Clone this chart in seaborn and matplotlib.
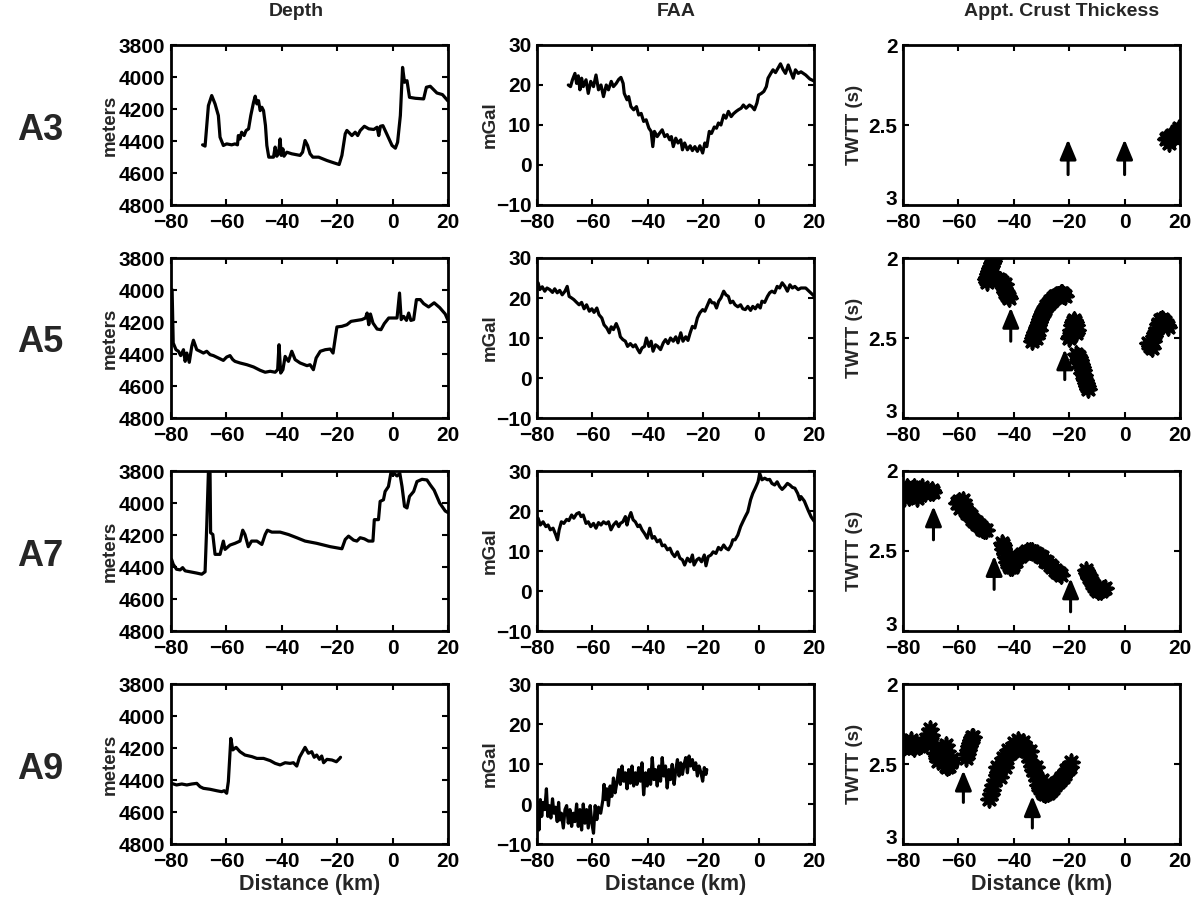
import matplotlib
matplotlib.use("Agg")
import matplotlib.pyplot as plt
import seaborn as sns

# ---------------- data ----------------
rows = ["A3", "A5", "A7", "A9"]
col_titles = ["Depth", "FAA", "Appt. Crust Thickess"]
x_ticks = [-80, -60, -40, -20, 0, 20]
depth_ticks = [3800, 4000, 4200, 4400, 4600, 4800]
faa_ticks = [-10, 0, 10, 20, 30]
twtt_ticks = [2, 2.5, 3]
twtt_tick_labels = ["2", "2.5", "3"]

# Depth (meters)
a3_depth_km = [-68.6, -67.7, -66.5, -65.3, -64.1, -62.9, -62.3, -61.1, -59.9, -58.1, -56.9, -56.0, -55.7, -55.1,
               -54.5, -53.6, -52.9, -52.0, -51.2, -50.2, -49.6, -49.0, -48.4, -47.8, -47.2, -46.6, -45.9, -45.4,
               -44.7, -43.9, -43.0, -42.4, -41.8, -41.2, -40.6, -40.2, -39.6, -39.2, -38.2, -36.4, -34.6, -33.4,
               -32.5, -31.6, -30.7, -29.8, -28.8, -26.7, -23.7, -21.3, -19.3, -18.3, -17.1, -16.5, -14.7, -13.5,
               -12.6, -11.7, -10.2, -8.6, -6.8, -5.6, -5.0, -4.4, -3.5, -2.0, -0.2, 1.0, 1.8, 2.8, 3.6, 4.3, 5.2,
               6.1, 8.2, 11.2, 12.2, 13.6, 16.0, 18.0, 20.0]
a3_depth_m = [4424, 4432, 4179, 4116, 4168, 4241, 4376, 4428, 4418, 4424, 4418, 4424, 4366, 4387,
              4345, 4366, 4335, 4324, 4241, 4158, 4120, 4168, 4148, 4210, 4189, 4210, 4303, 4428,
              4501, 4501, 4501, 4438, 4495, 4480, 4387, 4490, 4449, 4495, 4470, 4480, 4486, 4490,
              4470, 4397, 4428, 4480, 4501, 4501, 4522, 4536, 4547, 4490, 4355, 4334, 4366, 4345,
              4366, 4335, 4308, 4324, 4328, 4314, 4366, 4308, 4304, 4360, 4428, 4445, 4408, 4241, 3940, 4033, 4023,
              4127, 4133, 4137, 4064, 4058, 4100, 4110, 4150]

a5_depth_km = [-79.6, -79.2, -78.2, -77.3, -76.5, -75.5, -74.9, -74.3, -73.4, -72.5, -71.9, -70.7, -69.5, -68.3,
               -67.1, -65.9, -64.7, -62.9, -61.1, -59.9, -58.7, -57.7, -56.9, -55.1, -52.6, -50.2, -47.8, -46.0,
               -44.2, -42.4, -41.5, -41.0, -40.4, -39.6, -38.8, -37.6, -36.4, -35.2, -33.4, -30.9, -29.8, -28.6,
               -27.6, -26.1, -24.3, -22.5, -21.5, -20.7, -20.1, -18.3, -16.5, -15.0, -12.9, -11.1, -9.8, -9.2,
               -8.6, -8.0, -7.1, -5.6, -4.2, -3.0, -1.4, 0.4, 1.6, 2.5, 3.1, 4.0, 5.0, 5.8, 6.6, 7.6, 8.6, 10.0,
               11.2, 13.0, 15.0, 17.0, 19.0, 20.0]
a5_depth_m = [3998, 4331, 4373, 4383, 4410, 4373, 4446, 4394, 4452, 4352, 4314, 4373, 4383, 4394,
              4383, 4404, 4410, 4425, 4440, 4419, 4410, 4435, 4446, 4456, 4467, 4481, 4502, 4514,
              4508, 4514, 4498, 4342, 4519, 4498, 4415, 4446, 4383, 4435, 4456, 4473, 4467, 4498,
              4425, 4383, 4373, 4369, 4394, 4300, 4231, 4227, 4217, 4196, 4190, 4185, 4175, 4144,
              4217, 4150, 4206, 4244, 4248, 4210, 4175, 4175, 4175, 4019, 4185, 4165, 4190, 4144, 4190, 4185, 4060, 4060,
              4085, 4106, 4080, 4110, 4150, 4190]

a7_depth_km = [-79.8, -79.2, -78.0, -76.7, -75.8, -74.9, -73.1, -70.7, -68.9, -67.7, -67.1, -66.5, -65.9, -65.7,
               -64.9, -64.1, -62.3, -61.1, -60.5, -58.7, -56.9, -55.1, -54.1, -53.3, -52.1, -50.9, -49.0, -47.2,
               -46.0, -45.2, -43.6, -40.6, -37.6, -34.6, -31.6, -27.4, -22.5, -18.3, -17.1, -15.9, -14.1, -12.9,
               -11.7, -10.2, -8.7, -7.1, -6.6, -5.1, -4.5, -3.3, -2.7, -1.5, -0.6, 0.4, 1.6, 2.6, 3.4, 4.3, 5.2,
               6.1, 7.6, 8.8, 10.6, 12.4, 13.6, 15.0, 17.0, 19.0, 20.0]
a7_depth_m = [4352, 4383, 4414, 4418, 4404, 4424, 4430, 4438, 4445, 4430, 4145, 3810, 3814, 4186,
              4197, 4321, 4321, 4238, 4290, 4263, 4252, 4238, 4170, 4197, 4273, 4238, 4238, 4259,
              4197, 4170, 4182, 4182, 4197, 4217, 4238, 4252, 4273, 4286, 4228, 4207, 4232, 4238,
              4217, 4224, 4238, 4238, 4104, 4104, 3990, 3980, 3928, 3897, 3810, 3814, 3831, 3814, 3897, 4021, 4031,
              3959, 3928, 3866, 3852, 3856, 3887, 3920, 4000, 4050, 4060]

a9_depth_km = [-79.8, -78.0, -76.1, -74.3, -72.5, -70.7, -69.5, -68.3, -65.9, -63.5, -61.7, -60.8, -59.9, -59.3,
               -58.4, -57.7, -56.5, -55.1, -53.3, -50.8, -49.0, -46.6, -44.2, -42.4, -40.6, -38.8, -37.0, -35.8,
               -34.6, -33.6, -32.8, -31.6, -30.4, -29.2, -28.3, -27.4, -26.4, -25.6, -24.9, -23.7, -21.9, -20.3,
               -19.1, -18.8]
a9_depth_m = [4421, 4431, 4425, 4431, 4425, 4421, 4442, 4452, 4458, 4467, 4473, 4467, 4483, 4410,
              4140, 4212, 4196, 4223, 4244, 4254, 4265, 4265, 4279, 4296, 4306, 4292, 4296, 4292,
              4313, 4258, 4233, 4196, 4233, 4223, 4258, 4244, 4271, 4250, 4292, 4271, 4275, 4286,
              4265, 4258]

# FAA (mGal)
a3_faa_km = [-68.7, -67.9, -67.2, -66.3, -65.7, -65.1, -64.5, -63.9, -63.3, -62.3, -61.5, -60.6, -59.6, -58.7,
             -57.8, -56.9, -56.0, -55.0, -54.2, -53.2, -52.4, -51.4, -50.5, -49.7, -48.9, -48.5, -47.5, -46.9,
             -46.1, -45.1, -44.1, -43.3, -42.4, -41.5, -40.6, -39.6, -38.8, -38.2, -37.6, -36.6, -35.8, -34.8,
             -33.9, -33.0, -32.1, -31.5, -30.8, -29.9, -29.1, -28.1, -27.5, -26.7, -25.7, -24.7, -23.9, -23.0,
             -22.1, -21.2, -20.2, -19.4, -18.7, -17.8, -17.0, -16.0, -15.2, -14.5, -13.6, -12.6, -11.8, -10.9,
             -9.9, -9.1, -8.1, -7.3, -6.3, -5.5, -4.5, -3.3, -2.4, -1.5, -0.6, 0.0, 1.0, 1.9, 2.8, 3.4, 4.4,
             5.2, 6.1, 7.0, 7.9, 8.8, 9.7, 10.7, 11.6, 12.5, 13.3, 14.3, 15.3, 17.0, 18.5, 20.0]
a3_faa_mgal = [20.0, 19.6, 21.3, 22.9, 20.4, 22.3, 18.8, 21.7, 19.6, 21.3, 17.9, 20.9, 19.6, 22.5,
               18.8, 20.0, 17.1, 20.0, 18.8, 20.9, 19.6, 20.4, 21.4, 21.9, 20.4, 17.9, 16.3, 17.1,
               14.6, 13.8, 14.6, 12.5, 12.9, 10.9, 11.3, 9.2, 8.4, 4.6, 8.4, 7.1, 7.9, 8.8,
               7.1, 7.6, 6.3, 7.1, 4.6, 6.7, 5.5, 6.3, 3.8, 5.5, 3.8, 4.8, 3.6, 4.6,
               3.4, 4.8, 3.0, 5.5, 4.6, 8.4, 7.9, 9.5, 9.2, 10.5, 10.0, 12.5, 11.7, 13.4,
               12.1, 12.8, 13.4, 13.8, 14.2, 15.0, 14.2, 15.0, 14.6, 13.8, 15.5, 17.5, 17.9, 18.4, 19.6, 21.7, 22.9,
               23.8, 23.1, 24.2, 25.3, 23.9, 22.9, 25.0, 23.3, 21.7, 23.8, 22.9, 23.3, 22.5, 21.5, 21.0]

a5_faa_km = [-79.6, -79.0, -78.1, -77.2, -76.4, -75.4, -74.4, -73.6, -72.7, -71.8, -70.9, -69.9, -69.1, -68.4,
             -67.5, -66.7, -65.7, -64.8, -63.9, -63.0, -62.1, -61.1, -60.2, -59.4, -58.4, -57.6, -56.6, -55.8,
             -54.8, -53.9, -53.2, -52.4, -51.4, -50.5, -49.9, -49.0, -48.1, -47.3, -46.3, -45.3, -44.5, -43.6,
             -42.9, -42.1, -41.2, -40.5, -39.6, -38.8, -38.1, -37.2, -36.4, -35.4, -34.4, -33.6, -32.7, -31.8,
             -30.8, -29.9, -29.1, -28.1, -27.3, -26.3, -25.5, -24.7, -23.9, -23.0, -22.1, -21.2, -20.2, -19.4,
             -18.4, -17.6, -16.8, -16.0, -15.2, -14.4, -13.6, -12.6, -11.8, -10.9, -10.2, -9.3, -8.5, -7.5,
             -6.5, -5.7, -4.8, -3.9, -2.9, -2.1, -1.2, -0.3, 0.6, 1.2, 2.2, 3.2, 4.0, 4.8, 5.8, 6.7, 7.6, 8.5,
             9.5, 10.4, 11.3, 12.2, 13.1, 14.3, 15.3, 17.0, 18.5, 20.0]
a5_faa_mgal = [23.8, 22.1, 22.8, 21.7, 22.5, 22.1, 21.4, 22.3, 21.3, 21.9, 20.8, 21.7, 22.9, 20.4,
               20.0, 19.6, 18.9, 18.3, 18.9, 17.3, 18.3, 16.7, 17.3, 16.4, 17.5, 15.8, 15.0, 13.3,
               12.5, 11.3, 12.8, 12.1, 13.6, 12.1, 10.3, 9.6, 9.2, 7.9, 8.6, 7.8, 8.3, 7.1,
               6.3, 7.5, 7.9, 10.0, 7.9, 9.2, 6.7, 8.3, 7.9, 7.1, 8.8, 9.6, 8.6, 10.0,
               9.2, 10.3, 8.8, 11.3, 9.2, 10.3, 9.4, 11.3, 12.9, 12.5, 15.0, 16.3, 17.1, 16.7,
               18.3, 19.6, 18.8, 18.8, 17.5, 19.2, 20.0, 21.7, 20.8, 20.4, 18.8, 19.2, 18.3, 17.8,
               18.3, 17.3, 17.1, 17.9, 16.9, 17.9, 17.3, 18.3, 17.5, 19.2, 18.9, 20.4, 21.3, 21.7, 21.3, 22.9, 22.5, 23.8,
               22.9, 21.7, 23.3, 22.5, 22.9, 22.1, 22.5, 22.5, 21.5, 20.5]

a7_faa_km = [-79.6, -78.8, -77.8, -76.8, -76.0, -75.2, -74.2, -73.2, -72.6, -72.0, -71.2, -70.3, -69.3, -68.5,
             -67.5, -66.7, -65.7, -64.8, -64.1, -63.3, -62.3, -61.5, -60.6, -59.6, -58.7, -57.8, -56.9, -56.0,
             -55.0, -54.2, -53.3, -52.4, -51.4, -50.5, -49.9, -49.0, -48.1, -47.5, -46.9, -46.1, -45.3, -44.5,
             -43.6, -42.9, -42.1, -41.2, -40.2, -39.3, -38.4, -37.6, -36.6, -35.6, -34.8, -33.9, -32.9, -32.0,
             -31.2, -30.3, -29.3, -28.4, -27.5, -26.7, -25.7, -24.7, -23.9, -23.3, -22.3, -21.5, -20.6, -19.6,
             -19.0, -18.2, -17.2, -16.4, -15.4, -14.5, -13.6, -12.6, -11.8, -10.9, -9.9, -9.3, -8.5, -7.5,
             -6.5, -5.7, -4.8, -3.9, -2.9, -2.1, -1.2, -0.2, 0.4, 1.2, 2.2, 3.2, 4.0, 4.8, 5.8, 6.7, 7.6, 8.5,
             9.5, 10.4, 11.3, 12.2, 13.1, 14.1, 14.9, 15.3, 16.5, 18.0, 19.0, 20.0]
a7_faa_mgal = [18.2, 16.5, 17.3, 16.1, 16.5, 15.3, 15.7, 14.0, 12.8, 15.3, 17.3, 16.9, 17.9, 17.6,
               19.0, 18.2, 19.3, 19.6, 18.6, 19.0, 16.9, 17.3, 16.1, 16.9, 15.7, 17.1, 16.5, 17.3,
               16.8, 17.3, 15.3, 16.5, 17.3, 16.1, 16.9, 17.3, 18.6, 16.5, 18.2, 19.6, 17.8, 17.3,
               16.1, 16.5, 15.3, 14.4, 13.2, 15.7, 13.2, 13.6, 12.3, 12.8, 11.3, 11.5, 10.3, 10.7,
               9.4, 8.6, 9.8, 8.2, 7.8, 6.5, 8.2, 7.3, 9.0, 6.5, 7.8, 8.2, 7.3, 9.0,
               6.3, 8.6, 9.0, 9.8, 9.4, 10.9, 10.3, 11.5, 10.7, 10.3, 11.5, 12.8, 12.8, 14.0,
               16.1, 17.3, 18.6, 19.8, 22.8, 24.4, 25.7, 27.3, 29.4, 27.8, 28.2, 27.8, 27.9, 26.9, 26.5, 27.3, 26.1, 25.4,
               26.1, 26.9, 26.5, 25.9, 25.7, 24.4, 22.8, 23.6, 22.5, 20.0, 18.5, 17.5]

a9_faa_km = [-79.9, -79.6, -79.3, -78.8, -78.3, -77.8, -77.2, -76.6, -76.1, -75.6, -75.0, -74.4, -73.9, -73.3,
             -72.7, -72.2, -71.8, -71.2, -70.5, -69.9, -69.3, -68.7, -68.1, -67.5, -66.9, -66.3, -65.7, -65.1,
             -64.5, -63.9, -63.3, -62.7, -62.1, -61.5, -60.8, -60.2, -59.6, -59.0, -58.4, -57.8, -57.0, -56.2,
             -55.8, -55.3, -54.8, -54.2, -53.6, -53.0, -52.4, -51.8, -51.2, -50.5, -49.9, -49.3, -48.7, -48.1,
             -47.5, -46.9, -46.3, -45.7, -45.1, -44.5, -43.9, -43.3, -42.7, -42.1, -41.5, -40.8, -40.2, -39.6,
             -39.0, -38.4, -37.8, -37.2, -36.6, -36.0, -35.4, -34.8, -34.2, -33.6, -33.0, -32.4, -31.8, -31.2,
             -30.5, -29.9, -29.3, -28.7, -28.1, -27.5, -26.9, -26.3, -25.7, -25.1, -24.5, -23.9, -23.3, -22.7,
             -22.1, -21.5, -20.8, -20.2, -19.6, -19.0, -18.7]
a9_faa_mgal = [-3.9, 0.4, -6.5, 1.1, -3.1, 0.4, -1.4, 3.8, -3.1, -0.4, -3.5, 1.3, -2.3, -0.8,
               -4.4, 0.4, -4.0, -2.3, -6.0, -1.4, -0.4, -4.8, -1.4, -5.6, -2.3, -4.4, 0.0, -5.6,
               -1.4, -6.5, 0.0, -4.8, -1.4, -6.0, -0.4, -4.8, -7.3, -0.4, -3.9, -0.8, -2.3, 1.1,
               4.9, 1.1, 3.8, -0.4, 4.5, 1.9, 6.5, 2.8, 5.2, 8.6, 4.9, 9.5, 5.7, 7.8,
               3.8, 8.6, 5.2, 9.5, 4.5, 7.8, 4.9, 9.1, 5.7, 10.3, 2.3, 7.8, 4.5, 8.6,
               4.9, 11.6, 6.1, 8.6, 4.5, 9.5, 5.7, 11.6, 7.0, 9.5, 4.0, 8.6, 6.1, 9.9,
               4.9, 8.6, 11.1, 7.0, 10.3, 7.4, 9.9, 11.6, 7.8, 12.0, 9.5, 11.1, 8.6, 10.3,
               7.0, 9.5, 7.8, 5.7, 9.1, 7.4, 8.6]

# Apparent crust thickness (TWTT, s)
a3_twtt_km = [14.8, 15.4, 16.0, 16.6, 17.2, 17.8, 18.4, 19.0, 19.5, 16.0, 18.0]
a3_twtt_s = [2.59, 2.58, 2.58, 2.57, 2.56, 2.56, 2.55, 2.54, 2.52, 2.61, 2.58]

a5_twtt_km = [-50.2, -49.8, -49.4, -49.0, -48.6, -48.2, -47.8, -47.4, -47.0, -49.6, -48.8,
              -45.6, -45.0, -44.4, -44.0, -43.6, -43.2, -42.8, -42.4, -42.0, -41.6, -43.0,
              -33.4, -33.0, -32.6, -32.2, -31.8, -31.4, -31.0, -30.6, -30.2, -29.8, -29.4, -29.0, -28.6,
              -28.2, -27.8, -27.4, -27.0, -26.6, -26.2, -25.8, -25.4, -25.0, -24.6, -24.2, -23.8, -23.4,
              -23.0, -22.6, -22.2, -21.8, -21.4, -32.0, -30.8,
              -20.0, -19.6, -19.4, -19.0, -18.6, -18.2, -17.8, -17.4, -17.2, -17.6, -18.4,
              -17.6, -17.0, -16.6, -16.2, -15.8, -15.4, -15.0, -14.7, -14.4, -14.0, -13.7, -13.3, -16.8, -15.2,
              8.6, 9.2, 9.8, 10.4, 11.0, 11.6, 12.2, 12.8, 13.4, 14.0, 14.6, 15.2, 15.8, 10.6, 13.0]
a5_twtt_s = [2.13, 2.12, 2.10, 2.08, 2.06, 2.05, 2.03, 2.02, 2.00, 2.15, 2.11,
             2.13, 2.14, 2.15, 2.17, 2.19, 2.21, 2.22, 2.23, 2.24, 2.25, 2.16,
             2.52, 2.50, 2.48, 2.46, 2.44, 2.42, 2.40, 2.38, 2.36, 2.35, 2.34, 2.33, 2.32,
             2.30, 2.29, 2.28, 2.27, 2.27, 2.26, 2.25, 2.25, 2.24, 2.24, 2.23, 2.23, 2.23,
             2.22, 2.22, 2.23, 2.23, 2.24, 2.50, 2.45,
             2.50, 2.49, 2.45, 2.42, 2.40, 2.39, 2.40, 2.42, 2.45, 2.47, 2.44,
             2.60, 2.61, 2.62, 2.64, 2.66, 2.68, 2.70, 2.73, 2.76, 2.78, 2.80, 2.82, 2.65, 2.72,
             2.53, 2.55, 2.56, 2.52, 2.47, 2.44, 2.41, 2.39, 2.38, 2.39, 2.40, 2.42, 2.43, 2.49, 2.42]

a7_twtt_km = [-80.0, -79.2, -78.4, -77.6, -76.8, -76.0, -75.2, -74.4, -73.6, -72.8, -72.0, -71.2, -70.4,
              -69.6, -69.0, -79.5, -78.0, -74.8, -73.0,
              -60.4, -59.8, -59.2, -58.6, -58.0, -57.4, -56.8, -56.2, -55.6, -55.0, -54.4, -53.8, -53.2,
              -52.6, -52.0, -51.4, -50.8, -50.2, -59.6, -58.4,
              -44.1, -44.0, -43.8, -43.3, -42.9, -42.3, -41.7, -41.2, -40.7, -40.3, -39.9, -39.3, -38.7,
              -37.8, -36.9, -36.0, -35.1, -34.2, -33.3, -32.4, -31.5, -30.6, -29.7, -28.8, -27.9, -27.0,
              -26.1, -25.2, -24.3, -23.6, -23.1,
              -14.1, -13.5, -12.9, -12.3, -11.7, -11.1, -10.5, -9.6, -8.7, -7.8, -6.9]
a7_twtt_s = [2.13, 2.12, 2.10, 2.12, 2.11, 2.10, 2.13, 2.14, 2.12, 2.13, 2.14, 2.12, 2.13,
             2.12, 2.13, 2.17, 2.16, 2.17, 2.10,
             2.20, 2.19, 2.20, 2.21, 2.22, 2.24, 2.26, 2.27, 2.28, 2.30, 2.31, 2.32, 2.33,
             2.34, 2.35, 2.36, 2.37, 2.37, 2.23, 2.18,
             2.45, 2.46, 2.49, 2.51, 2.54, 2.57, 2.59, 2.60, 2.60, 2.59, 2.57, 2.56, 2.54,
             2.53, 2.52, 2.51, 2.50, 2.50, 2.50, 2.51, 2.52, 2.53, 2.54, 2.56, 2.57, 2.59,
             2.60, 2.62, 2.63, 2.64, 2.65,
             2.62, 2.64, 2.66, 2.68, 2.70, 2.72, 2.74, 2.75, 2.75, 2.74, 2.73]

a9_twtt_km = [-80.8, -80.0, -79.2, -78.4, -77.6, -76.8, -76.0, -75.2, -74.4, -73.6, -72.8, -72.0, -71.2,
              -70.8, -70.4, -70.0, -69.4, -79.6, -77.2,
              -68.4, -67.6, -67.0, -66.4, -65.8, -65.2, -64.6, -64.0, -63.4, -62.8, -62.2, -66.0, -67.2,
              -64.6, -64.0,
              -57.4, -57.0, -56.6, -56.2, -55.8, -55.4, -55.0, -54.6,
              -48.9, -48.4, -47.9, -47.4, -46.8, -46.2, -45.6, -45.0, -44.4, -43.8, -43.2, -42.6, -42.0,
              -41.4, -40.8, -40.2, -39.6, -39.0, -38.4, -37.8, -37.2, -36.6, -36.0, -35.4, -34.8, -34.2,
              -33.6, -33.0, -32.4, -31.8, -31.2, -30.6, -30.0, -29.4, -28.8, -28.2, -27.6, -27.0, -26.4,
              -25.8, -25.2, -24.6, -24.0, -23.4, -22.8, -22.2, -21.6, -21.0, -20.4, -19.8, -19.2,
              -46.0, -44.0, -42.0, -40.0, -38.5, -36.5, -34.0, -32.0, -30.0, -45.0, -43.0]
a9_twtt_s = [2.39, 2.40, 2.39, 2.38, 2.37, 2.39, 2.40, 2.38, 2.39, 2.38, 2.37, 2.37, 2.35,
             2.31, 2.28, 2.32, 2.37, 2.36, 2.35,
             2.43, 2.45, 2.42, 2.44, 2.47, 2.49, 2.51, 2.52, 2.51, 2.49, 2.47, 2.40, 2.48,
             2.38, 2.42,
             2.46, 2.44, 2.41, 2.39, 2.37, 2.35, 2.33, 2.33,
             2.72, 2.69, 2.66, 2.63, 2.60, 2.57, 2.55, 2.53, 2.51, 2.49, 2.47, 2.46, 2.44,
             2.43, 2.42, 2.41, 2.40, 2.39, 2.38, 2.37, 2.38, 2.39, 2.40, 2.42, 2.45, 2.48,
             2.51, 2.54, 2.57, 2.60, 2.63, 2.65, 2.67, 2.68, 2.69, 2.68, 2.68, 2.67, 2.66,
             2.65, 2.63, 2.62, 2.61, 2.60, 2.59, 2.58, 2.56, 2.54, 2.53, 2.52, 2.49,
             2.52, 2.46, 2.41, 2.37, 2.35, 2.36, 2.42, 2.52, 2.60, 2.58, 2.52]

# Arrows: position (km), tail TWTT, tip TWTT
a3_arrow_km = [-20.4, 0.0]
a3_arrow_tail = [2.81, 2.81]
a3_arrow_tip = [2.59, 2.59]
a5_arrow_km = [-41.1, -21.6]
a5_arrow_tail = [2.52, 2.76]
a5_arrow_tip = [2.31, 2.57]
a7_arrow_km = [-69.0, -47.1, -19.5]
a7_arrow_tail = [2.43, 2.74, 2.88]
a7_arrow_tip = [2.22, 2.53, 2.67]
a9_arrow_km = [-58.2, -33.3]
a9_arrow_tail = [2.74, 2.90]
a9_arrow_tip = [2.54, 2.70]

depth_data = [(a3_depth_km, a3_depth_m), (a5_depth_km, a5_depth_m),
              (a7_depth_km, a7_depth_m), (a9_depth_km, a9_depth_m)]
faa_data = [(a3_faa_km, a3_faa_mgal), (a5_faa_km, a5_faa_mgal),
            (a7_faa_km, a7_faa_mgal), (a9_faa_km, a9_faa_mgal)]
twtt_data = [(a3_twtt_km, a3_twtt_s), (a5_twtt_km, a5_twtt_s),
             (a7_twtt_km, a7_twtt_s), (a9_twtt_km, a9_twtt_s)]
arrow_data = [(a3_arrow_km, a3_arrow_tail, a3_arrow_tip), (a5_arrow_km, a5_arrow_tail, a5_arrow_tip),
              (a7_arrow_km, a7_arrow_tail, a7_arrow_tip), (a9_arrow_km, a9_arrow_tail, a9_arrow_tip)]

# ---------------- style ----------------
sns.set_style("ticks")
plt.rcParams["font.family"] = ["Liberation Sans", "DejaVu Sans"]
plt.rcParams["font.weight"] = "bold"
plt.rcParams["axes.labelweight"] = "bold"
plt.rcParams["axes.unicode_minus"] = True

W, H = 1201, 905
fig = plt.figure(figsize=(W / 100, H / 100), dpi=100)
fig.patch.set_facecolor("white")

lefts = [171, 537, 903]
tops = [45, 258, 471, 684]
aw, ah = 277, 160

TICK_FS = 15
LABEL_FS = 13.5


def style_axis(ax):
    for sp in ax.spines.values():
        sp.set_linewidth(2.0)
        sp.set_color("black")
        sp.set_visible(True)
    ax.tick_params(direction="in", length=4, width=1.5, top=True, right=True,
                   labelsize=TICK_FS, colors="black")
    ax.tick_params(axis="x", pad=6)
    ax.tick_params(axis="y", pad=4)
    for lab in ax.get_xticklabels() + ax.get_yticklabels():
        lab.set_fontweight("bold")
    ax.set_facecolor("white")


for r in range(4):
    for c in range(3):
        ax = fig.add_axes([lefts[c] / W, 1 - (tops[r] + ah) / H, aw / W, ah / H])
        if c == 0:
            xs, ys = depth_data[r]
            sns.lineplot(x=xs, y=ys, ax=ax, color="black", linewidth=2.3,
                         estimator=None, sort=False)
            ax.set_ylim(4800, 3800)
            ax.set_yticks(depth_ticks)
            ax.set_yticklabels([str(t) for t in depth_ticks])
            ax.set_ylabel("meters", fontsize=LABEL_FS, fontweight="bold", labelpad=0)
        elif c == 1:
            xs, ys = faa_data[r]
            sns.lineplot(x=xs, y=ys, ax=ax, color="black", linewidth=2.3,
                         estimator=None, sort=False)
            ax.set_ylim(-10, 30)
            ax.set_yticks(faa_ticks)
            ax.set_yticklabels([("\u2212" + str(-t)) if t < 0 else str(t) for t in faa_ticks])
            ax.set_ylabel("mGal", fontsize=LABEL_FS, fontweight="bold", labelpad=-2)
        else:
            xs, ys = twtt_data[r]
            sns.scatterplot(x=xs, y=ys, ax=ax, color="black", marker=(8, 2, 0), s=110,
                            edgecolor="black", linewidth=2.6, legend=False, zorder=3)
            ax.set_ylim(3, 2)
            ax.set_yticks(twtt_ticks)
            ax.set_yticklabels(twtt_tick_labels)
            ax.set_ylabel("TWTT (s)", fontsize=LABEL_FS, fontweight="bold", labelpad=4)
            akm, atail, atip = arrow_data[r]
            for xk, yt, yh in zip(akm, atail, atip):
                ax.annotate("", xy=(xk, yh), xytext=(xk, yt),
                            arrowprops=dict(arrowstyle="-|>,head_length=0.6,head_width=0.25",
                                            color="black", lw=2.2, mutation_scale=20,
                                            shrinkA=0, shrinkB=0))
        ax.set_xlim(-80, 20)
        ax.set_xticks(x_ticks)
        ax.set_xticklabels([("\u2212" + str(-t)) if t < 0 else str(t) for t in x_ticks])
        if r == 3:
            ax.set_xlabel("Distance (km)", fontsize=15.5, fontweight="bold", labelpad=2)
        else:
            ax.set_xlabel("")
        style_axis(ax)
        if c == 2:
            # the bottom "3" sits on its baseline so it clears the x tick labels
            for lab in ax.get_yticklabels():
                if lab.get_text() == "3":
                    lab.set_verticalalignment("baseline")

# column titles
title_x = [296, 676, 1062]
for c in range(3):
    fig.text(title_x[c] / W, 1 - 12 / H, col_titles[c], ha="center", va="center",
             fontsize=14, fontweight="bold")

# row labels
for r in range(4):
    fig.text(40 / W, 1 - (tops[r] + 85) / H, rows[r], ha="center", va="center",
             fontsize=26, fontweight="bold")

fig.savefig("out.png", dpi=100, facecolor="white")
